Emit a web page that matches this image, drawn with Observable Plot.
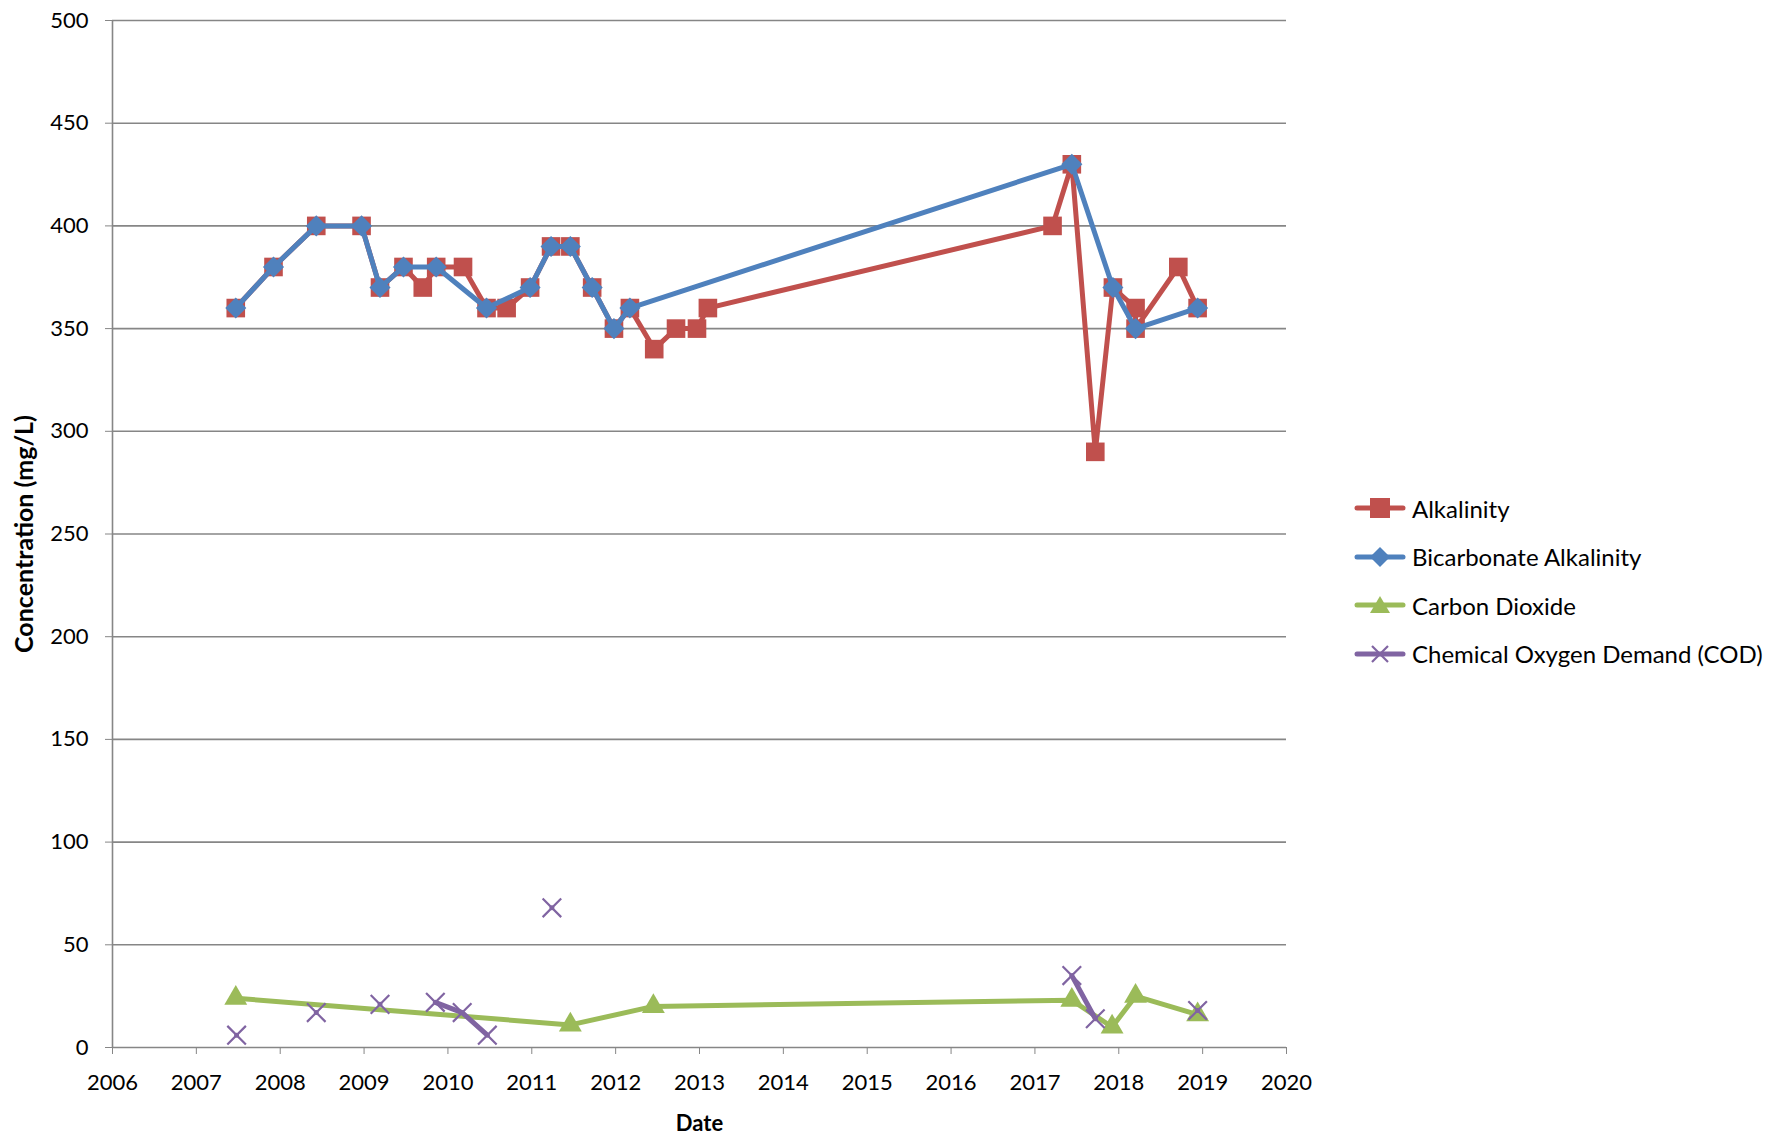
<!DOCTYPE html>
<html>
<head>
<meta charset="utf-8">
<script src="https://cdn.jsdelivr.net/npm/d3@7"></script>
<script src="https://cdn.jsdelivr.net/npm/@observablehq/plot@0.6"></script>
<style>
  html, body { margin: 0; padding: 0; background: #ffffff; }
  #wrap { position: relative; width: 1769px; height: 1136px; font-family: Lato, "Open Sans", sans-serif; }
  #legend { position: absolute; left: 1354px; top: 494px; font-size: 24px; color: #000; }
  .item { display: flex; align-items: center; height: 28px; margin-bottom: 20.5px; white-space: nowrap; }
  .item svg { margin-right: 6px; flex: none; }
</style>
</head>
<body>
<div id="wrap"><div id="legend"></div></div>
<script>
// ---- Data (decimal years) ----
const alkDates  = [2007.47, 2007.92, 2008.43, 2008.97, 2009.19, 2009.47, 2009.70, 2009.86, 2010.18, 2010.46, 2010.70, 2010.98, 2011.23, 2011.46, 2011.72, 2011.98, 2012.17, 2012.46, 2012.72, 2012.97, 2013.10, 2017.21, 2017.44, 2017.72, 2017.93, 2018.20, 2018.20, 2018.71, 2018.94];
const alkValues = [360, 380, 400, 400, 370, 380, 370, 380, 380, 360, 360, 370, 390, 390, 370, 350, 360, 340, 350, 350, 360, 400, 430, 290, 370, 360, 350, 380, 360];

const bicDates  = [2007.47, 2007.92, 2008.43, 2008.97, 2009.19, 2009.47, 2009.86, 2010.46, 2010.98, 2011.23, 2011.46, 2011.72, 2011.98, 2012.17, 2017.44, 2017.93, 2018.20, 2018.94];
const bicValues = [360, 380, 400, 400, 370, 380, 380, 360, 370, 390, 390, 370, 350, 360, 430, 370, 350, 360];

const co2Dates  = [2007.47, 2011.46, 2012.45, 2017.44, 2017.92, 2018.20, 2018.94];
const co2Values = [24, 11, 20, 23, 10, 25, 16];

// null = no COD measurement on that sample date (breaks the line)
const codDates  = [2007.48, 2007.92, 2008.43, 2008.97, 2009.19, 2009.47, 2009.85, 2010.17, 2010.47, 2010.99, 2011.24, 2011.46, 2017.44, 2017.72, 2017.92, 2018.94];
const codValues = [6, null, 17, null, 21, null, 22, 17, 6, null, 68, null, 35, 14, null, 18];

const seriesNames = ["Alkalinity", "Bicarbonate Alkalinity", "Carbon Dioxide", "Chemical Oxygen Demand (COD)"];
const seriesColors = ["#C0504D", "#4F81BD", "#9BBB59", "#8064A2"];

const xTicks = d3.range(2006, 2021, 1);
const yTicks = d3.range(0, 501, 50);
const xLabel = "Date";
const yLabel = "Concentration (mg/L)";

const toRows = (ds, vs) => ds.map((d, i) => ({date: d, value: vs[i]}));
const alk = toRows(alkDates, alkValues);
const bic = toRows(bicDates, bicValues);
const co2 = toRows(co2Dates, co2Values);
const cod = toRows(codDates, codValues);

const grey = "#868686";
const lw = 5;

const chart = Plot.plot({
  width: 1769,
  height: 1136,
  marginLeft: 112,
  marginRight: 483,
  marginTop: 20,
  marginBottom: 89,
  style: {fontFamily: "Lato, 'Open Sans', sans-serif", fontSize: "22px", background: "white", color: "black"},
  x: {domain: [2006, 2020], ticks: xTicks, tickFormat: d => String(d)},
  y: {domain: [0, 500], ticks: yTicks},
  marks: [
    Plot.gridY(yTicks, {stroke: grey, strokeOpacity: 1, strokeWidth: 1.6}),
    Plot.ruleX([2006], {stroke: grey, strokeWidth: 1.6}),
    Plot.axisX(xTicks, {tickSize: 7, tickPadding: 20, stroke: grey, fill: "black", label: null, tickFormat: d => String(d)}),
    Plot.axisY(yTicks, {tickSize: 7, tickPadding: 17, stroke: grey, fill: "black", label: null}),
    // Alkalinity
    Plot.line(alk, {x: "date", y: "value", stroke: seriesColors[0], strokeWidth: lw, strokeLinejoin: "round"}),
    Plot.dot(alk, {x: "date", y: "value", symbol: "square", r: 10.5, fill: seriesColors[0]}),
    // Bicarbonate Alkalinity
    Plot.line(bic, {x: "date", y: "value", stroke: seriesColors[1], strokeWidth: lw, strokeLinejoin: "round"}),
    Plot.dot(bic, {x: "date", y: "value", symbol: "diamond2", r: 9.5, fill: seriesColors[1]}),
    // Carbon Dioxide
    Plot.line(co2, {x: "date", y: "value", stroke: seriesColors[2], strokeWidth: lw, strokeLinejoin: "round"}),
    Plot.dot(co2, {x: "date", y: "value", symbol: "triangle", r: 8.5, fill: seriesColors[2]}),
    // COD
    Plot.line(cod, {x: "date", y: "value", stroke: seriesColors[3], strokeWidth: lw, strokeLinejoin: "round"}),
    Plot.dot(cod, {x: "date", y: "value", symbol: "times", r: 8.5, stroke: seriesColors[3], strokeWidth: 2.2}),
    // axis titles
    Plot.text([yLabel], {frameAnchor: "left", textAnchor: "middle", rotate: -90, dx: -88, fontWeight: "bold", fontSize: 25, fill: "black"}),
    Plot.text([xLabel], {frameAnchor: "bottom", dy: 76, lineAnchor: "middle", fontWeight: "bold", fontSize: 22, fill: "black"})
  ]
});
document.getElementById("wrap").prepend(chart);

// ---- Legend ----
const legend = document.getElementById("legend");
const symbolPaths = [
  '<rect x="16" y="4" width="20" height="20"/>',
  '<path d="M26 4 L36 14 L26 24 L16 14 Z"/>',
  '<path d="M26 5 L36 22 L16 22 Z"/>',
  '<path d="M18 6 L34 22 M34 6 L18 22" fill="none" stroke-width="2.2"/>'
];
seriesNames.forEach((name, i) => {
  const c = seriesColors[i];
  const item = document.createElement("div");
  item.className = "item";
  const sym = i === 3
    ? symbolPaths[i].replace('fill="none"', `fill="none" stroke="${c}"`)
    : symbolPaths[i].replace(/\/>$/, ` fill="${c}"/>`);
  item.innerHTML = `<svg width="52" height="28"><line x1="3" y1="14" x2="49" y2="14" stroke="${c}" stroke-width="5" stroke-linecap="round"/>${sym}</svg><span>${name}</span>`;
  legend.appendChild(item);
});
</script>
</body>
</html>
